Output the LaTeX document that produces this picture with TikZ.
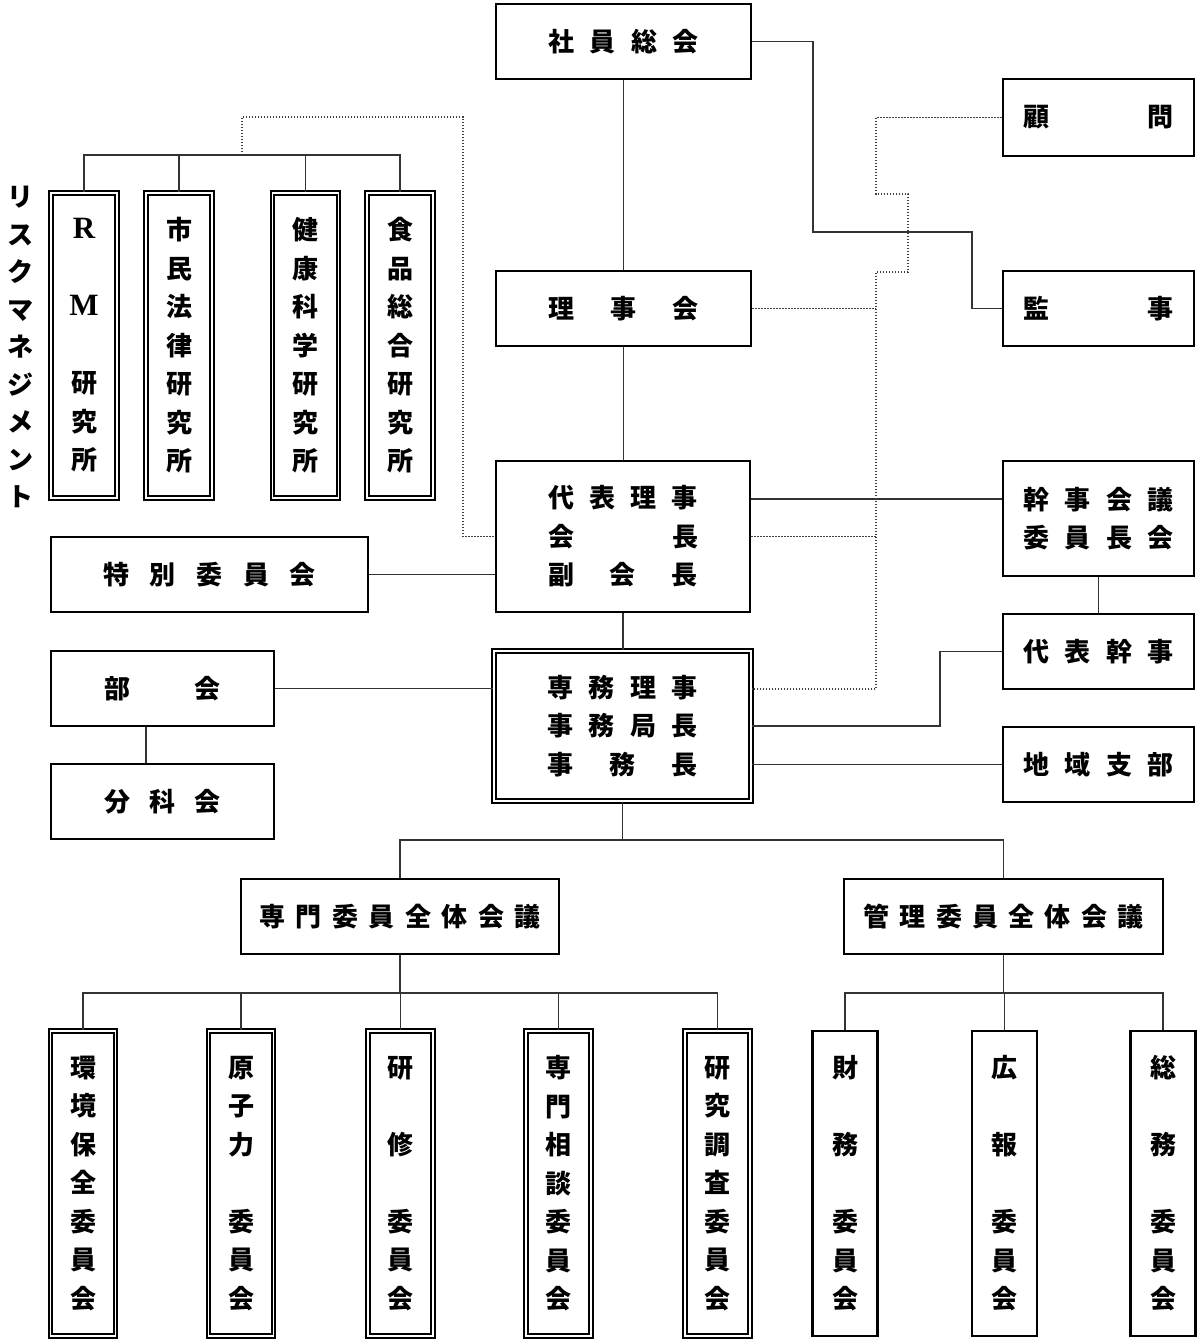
\documentclass[tikz,border=0pt]{standalone}
\usepackage{fontspec}
\setmainfont{Noto Sans CJK JP}
\newfontfamily\lat{Liberation Serif}[BoldFont={Liberation Serif Bold}]
\newcommand\spr[2]{\makebox[#1][s]{#2}}
\newcommand\rmlet[1]{{\fontsize{15.5pt}{19.25pt}\selectfont\lat\bfseries #1}}
\begin{document}
\begin{tikzpicture}[x=0.5pt,y=-0.5pt,
  every node/.style={font=\fontsize{13pt}{19.25pt}\selectfont\bfseries},
  box/.style={draw, line width=1.2pt, inner sep=0pt, align=center},
  dbox/.style={draw, double, line width=0.85pt, double distance=0.9pt, inner sep=0pt, align=center},
  con/.style={line width=0.7pt, black!80},
  dot/.style={line width=0.65pt, black!75, dash pattern=on 0.7pt off 0.8pt}]
\useasboundingbox (0,0) rectangle (1197,1339);
% central column
\node[box, minimum width=127.5pt, minimum height=37.5pt] (soin) at (623.5,41.5) {\spr{75pt}{社 員 総 会}};
\node[box, minimum width=127.5pt, minimum height=37.5pt] (riji) at (623.5,308.5) {\spr{75pt}{理 事 会}};
\node[box, minimum width=127pt, minimum height=75.5pt] (daihyo) at (623,536.5) {\spr{75pt}{代 表 理 事}\\\spr{75pt}{会 長}\\\spr{75pt}{副 会 長}};
\node[dbox, minimum width=128.5pt, minimum height=75pt] (senmu) at (622.5,726) {\spr{75pt}{専 務 理 事}\\\spr{75pt}{事 務 局 長}\\\spr{75pt}{事 務 長}};
% right column
\node[box, minimum width=95.5pt, minimum height=38.5pt] (komon) at (1098.5,117.5) {\spr{75pt}{顧 問}};
\node[box, minimum width=95.5pt, minimum height=37.5pt] (kanji) at (1098.5,308.5) {\spr{75pt}{監 事}};
\node[box, minimum width=95.5pt, minimum height=57.5pt] (kaigi) at (1098.5,518.5) {\spr{75pt}{幹 事 会 議}\\\spr{75pt}{委 員 長 会}};
\node[box, minimum width=95.5pt, minimum height=37.5pt] (dkanji) at (1098.5,651.5) {\spr{75pt}{代 表 幹 事}};
\node[box, minimum width=95.5pt, minimum height=37.5pt] (chiiki) at (1098.5,764.5) {\spr{75pt}{地 域 支 部}};
% left column
\node[box, minimum width=158.5pt, minimum height=37.5pt] (toku) at (209.5,574.5) {\spr{106.5pt}{特 別 委 員 会}};
\node[box, minimum width=111.5pt, minimum height=37.5pt] (bukai) at (162.5,688.5) {\spr{58.5pt}{部 会}};
\node[box, minimum width=111.5pt, minimum height=37.5pt] (bunka) at (162.5,801.5) {\spr{58.5pt}{分 科 会}};
% labs
\node[align=center, font=\fontsize{13pt}{18.75pt}\selectfont\bfseries] (rmtext) at (20,347) {リ\\ス\\ク\\マ\\ネ\\ジ\\メ\\ン\\ト};
\node[dbox, minimum width=33pt, minimum height=152.5pt] (lab1) at (84,345.5) {\rmlet{R}\\\mbox{}\\\rmlet{M}\\\mbox{}\\研\\究\\所};
\node[dbox, minimum width=33pt, minimum height=152.5pt] (lab2) at (179,345.5) {市\\民\\法\\律\\研\\究\\所};
\node[dbox, minimum width=33pt, minimum height=152.5pt] (lab3) at (305.5,345.5) {健\\康\\科\\学\\研\\究\\所};
\node[dbox, minimum width=33pt, minimum height=152.5pt] (lab4) at (400,345.5) {食\\品\\総\\合\\研\\究\\所};
% second level
\node[box, minimum width=159pt, minimum height=37.5pt] (senzen) at (400,916.5) {\spr{140.5pt}{専 門 委 員 全 体 会 議}};
\node[box, minimum width=159.5pt, minimum height=37.5pt] (kanzen) at (1003.5,916.5) {\spr{140pt}{管 理 委 員 全 体 会 議}};
% committees
\node[dbox, minimum width=32.5pt, minimum height=152.5pt] (c1) at (83,1183.5) {環\\境\\保\\全\\委\\員\\会};
\node[dbox, minimum width=32.5pt, minimum height=152.5pt] (c2) at (241,1183.5) {原\\子\\力\\\mbox{}\\委\\員\\会};
\node[dbox, minimum width=32.5pt, minimum height=152.5pt] (c3) at (400.5,1183.5) {研\\\mbox{}\\修\\\mbox{}\\委\\員\\会};
\node[dbox, minimum width=32.5pt, minimum height=152.5pt] (c4) at (558.5,1183.5) {専\\門\\相\\談\\委\\員\\会};
\node[dbox, minimum width=32.5pt, minimum height=152.5pt] (c5) at (717.5,1183.5) {研\\究\\調\\査\\委\\員\\会};
\node[box, minimum width=32.5pt, minimum height=152.5pt] (c6) at (845,1183.5) {財\\\mbox{}\\務\\\mbox{}\\委\\員\\会};
\node[box, minimum width=32.5pt, minimum height=152.5pt] (c7) at (1004.5,1183.5) {広\\\mbox{}\\報\\\mbox{}\\委\\員\\会};
\node[box, minimum width=32.5pt, minimum height=152.5pt] (c8) at (1163,1183.5) {総\\\mbox{}\\務\\\mbox{}\\委\\員\\会};
% helper coordinates
\coordinate (y499) at (0,499);
\coordinate (y689) at (0,689);
\coordinate (x146) at (146,0);
\coordinate (lb) at (0,155);
\coordinate (b840) at (0,840);
\coordinate (b993) at (0,993);
% solid connectors
\draw[con] (soin.south) -- (soin.south |- riji.north);
\draw[con] (riji.south) -- (riji.south |- daihyo.north);
\draw[con] (daihyo.south) -- (daihyo.south |- senmu.north);
\draw[con] (soin.east) -- (813,41.5) |- (972,232) |- (kanji.west);
\draw[con] (daihyo.east |- y499) -- (kaigi.west |- y499);
\draw[con] (kaigi.south) -- (dkanji.north);
\draw[con] (dkanji.west) -- (940,651.5) |- (senmu.east);
\draw[con] (chiiki.west) -- (chiiki.west -| senmu.east);
\draw[con] (toku.east) -- (toku.east -| daihyo.west);
\draw[con] (bukai.east) -- (bukai.east -| senmu.west);
\draw[con] (bukai.south -| x146) -- (bunka.north -| x146);
\draw[con] (lab1.north) |- (lab4.north |- lb) -- (lab4.north);
\draw[con] (lab2.north) -- (lab2.north |- lb);
\draw[con] (lab3.north) -- (lab3.north |- lb);
\draw[con] (senmu.south) -- (senmu.south |- b840);
\draw[con] (senzen.north) |- (kanzen.north |- b840) -- (kanzen.north);
\draw[con] (senzen.south) -- (senzen.south |- b993);
\draw[con] (c1.north) |- (c5.north |- b993) -- (c5.north);
\foreach \n in {c2,c3,c4} \draw[con] (\n.north) -- (\n.north |- b993);
\draw[con] (kanzen.south) -- (kanzen.south |- b993);
\draw[con] (c6.north) |- (c8.north |- b993) -- (c8.north);
\draw[con] (c7.north) -- (c7.north |- b993);
% dotted connectors
\draw[dot] (242,155) |- (463,117) |- (daihyo.west);
\draw[dot] (komon.west) -- (876,117.5) -- (876,194) -- (908,194) -- (908,272) -- (876,272) -- (876,689) -- (senmu.east |- y689);
\draw[dot] (riji.east) -- (876,308.5);
\draw[dot] (daihyo.east) -- (876,536.5);
\end{tikzpicture}
\end{document}
